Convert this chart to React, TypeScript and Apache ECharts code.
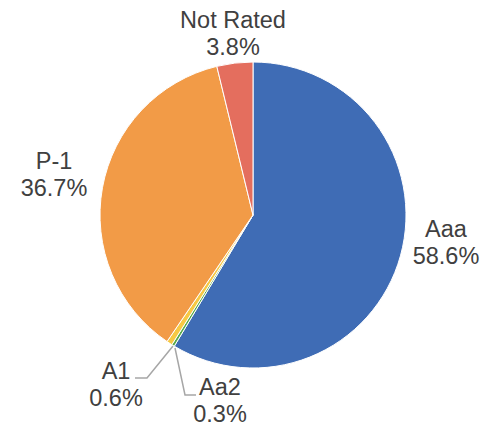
import React, { useEffect, useRef } from "react";
import * as echarts from "echarts";

const categories = ["Aaa", "Aa2", "A1", "P-1", "Not Rated"];
const values = [58.6, 0.3, 0.6, 36.7, 3.8];
const colors = ["#3F6CB5", "#5AAA4C", "#F7C944", "#F29B47", "#E46E5E"];

export default function App() {
  const ref = useRef<HTMLDivElement>(null);
  useEffect(() => {
    if (!ref.current) return;
    const chart = echarts.init(ref.current, null, { renderer: "svg" });
    const labelPos: Record<string, [number, number]> = {
      Aaa: [446, 242],
      "Aa2": [220, 400],
      A1: [116, 384],
      "P-1": [54, 174],
      "Not Rated": [233, 33],
    };
    const linePts: Record<string, number[][]> = {
      A1: [[173, 346], [147, 378], [135, 378]],
      "Aa2": [[175, 348], [185, 395], [196, 395]],
    };
    chart.setOption({
      animation: false,
      backgroundColor: "#ffffff",
      series: [
        {
          type: "pie",
          center: [253, 215],
          radius: 153,
          startAngle: 90,
          clockwise: true,
          avoidLabelOverlap: false,
          itemStyle: { borderColor: "#ffffff", borderWidth: 1 },
          label: {
            show: true,
            position: "outside",
            formatter: (p: any) => `${p.name}\n${Number(p.value).toFixed(1)}%`,
            fontFamily: "'Liberation Sans', Arial, sans-serif",
            fontSize: 23.5,
            lineHeight: 27,
            color: "#404040",
            align: "center",
          },
          labelLine: {
            show: true,
            lineStyle: { color: "#A6A6A6", width: 1.5 },
          },
          labelLayout: (params: any) => {
            const name = categories[params.dataIndex];
            const [x, y] = labelPos[name];
            const res: any = { x, y, align: "center", verticalAlign: "middle" };
            if (linePts[name]) res.labelLinePoints = linePts[name];
            return res;
          },
          data: categories.map((c, i) => ({
            name: c,
            value: values[i],
            itemStyle: { color: colors[i] },
            labelLine: { show: !!(c === "A1" || c === "Aa2") },
          })),
        },
      ],
    });
    return () => chart.dispose();
  }, []);
  return (
    <div
      ref={ref}
      style={{ position: "fixed", left: 0, top: 0, width: 485, height: 427 }}
    />
  );
}
